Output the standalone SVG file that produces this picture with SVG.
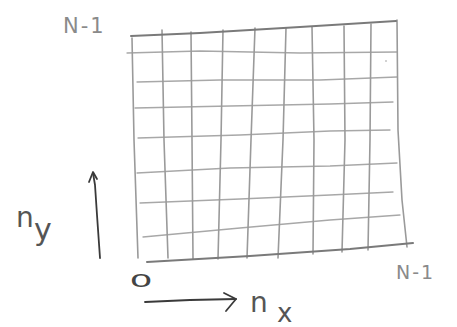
<svg xmlns="http://www.w3.org/2000/svg" width="457" height="327" viewBox="0 0 457 327">
<style>
.g{fill:none;stroke:#9a9a9a;stroke-width:1.6;stroke-linecap:round;stroke-linejoin:round}
.h{fill:none;stroke:#a8a8a8;stroke-width:1.3;stroke-linecap:round;stroke-linejoin:round}
.b{fill:none;stroke:#7a7a7a;stroke-width:2;stroke-linecap:round;stroke-linejoin:round}
.a{fill:none;stroke:#3a3a3a;stroke-width:1.8;stroke-linecap:round;stroke-linejoin:round}
.lg{font-family:"DejaVu Sans",sans-serif;fill:#8a8a8a}
.ld{font-family:"DejaVu Sans",sans-serif;fill:#555}
</style>
<rect width="457" height="327" fill="#fff"/>
<g id="grid">
<polyline class="h" points="127,53 200,51 300,53 397,52"/>
<polyline class="h" points="137,82 220,80 320,80 397,77"/>
<polyline class="h" points="135,108 230,106 330,104 393,102"/>
<polyline class="h" points="138,138 240,135 330,131 390,130"/>
<polyline class="h" points="137,173 230,168 330,166 397,163"/>
<polyline class="h" points="140,203 240,199 330,195 393,192"/>
<polyline class="h" points="143,237 240,228 330,220 400,215"/>
<polyline class="g" points="162,30 164,140 168,258"/>
<polyline class="g" points="191,32 192,140 193,259"/>
<polyline class="g" points="223,30 221,140 218,259"/>
<polyline class="g" points="255,28 251,140 247,258"/>
<polyline class="g" points="286,28 283,140 278,258"/>
<polyline class="g" points="312,27 314,140 313,254"/>
<polyline class="g" points="344,26 345,140 342,252"/>
<polyline class="g" points="371,24 370,140 368,250"/>
<polyline class="g" points="132,38 134,140 138,258"/>
<polyline class="g" points="397,20 398,130 402,200 407,247"/>
<polyline class="b" points="131,36 200,33 300,27 396,21"/>
<polyline class="b" points="147,262 250,256 350,249 413,243"/>
<circle cx="386" cy="61" r="0.8" fill="#999"/>
</g>
<g id="arrows">
<polyline class="a" points="100,258 97,215 95,185 93,173"/>
<polyline class="a" points="89,182 93,172 97,179"/>
<polyline class="a" points="145,302 190,300 236,299"/>
<polyline class="a" points="224,293 236,299 226,311"/>
</g>
<g id="labels">
<text class="lg" x="63" y="33" font-size="21" letter-spacing="2">N-1</text>
<text class="lg" x="396" y="279" font-size="19" letter-spacing="2">N-1</text>
<text class="ld" x="16" y="227" font-size="28">n</text>
<text class="ld" x="34" y="240" font-size="30">y</text>
<text class="ld" x="250" y="312" font-size="28">n</text>
<text class="ld" x="277" y="322" font-size="26">x</text>
<text font-family="DejaVu Sans, sans-serif" fill="#444" font-size="26" text-anchor="middle" transform="translate(141,287) scale(1.4,0.7)">0</text>
</g>
</svg>
